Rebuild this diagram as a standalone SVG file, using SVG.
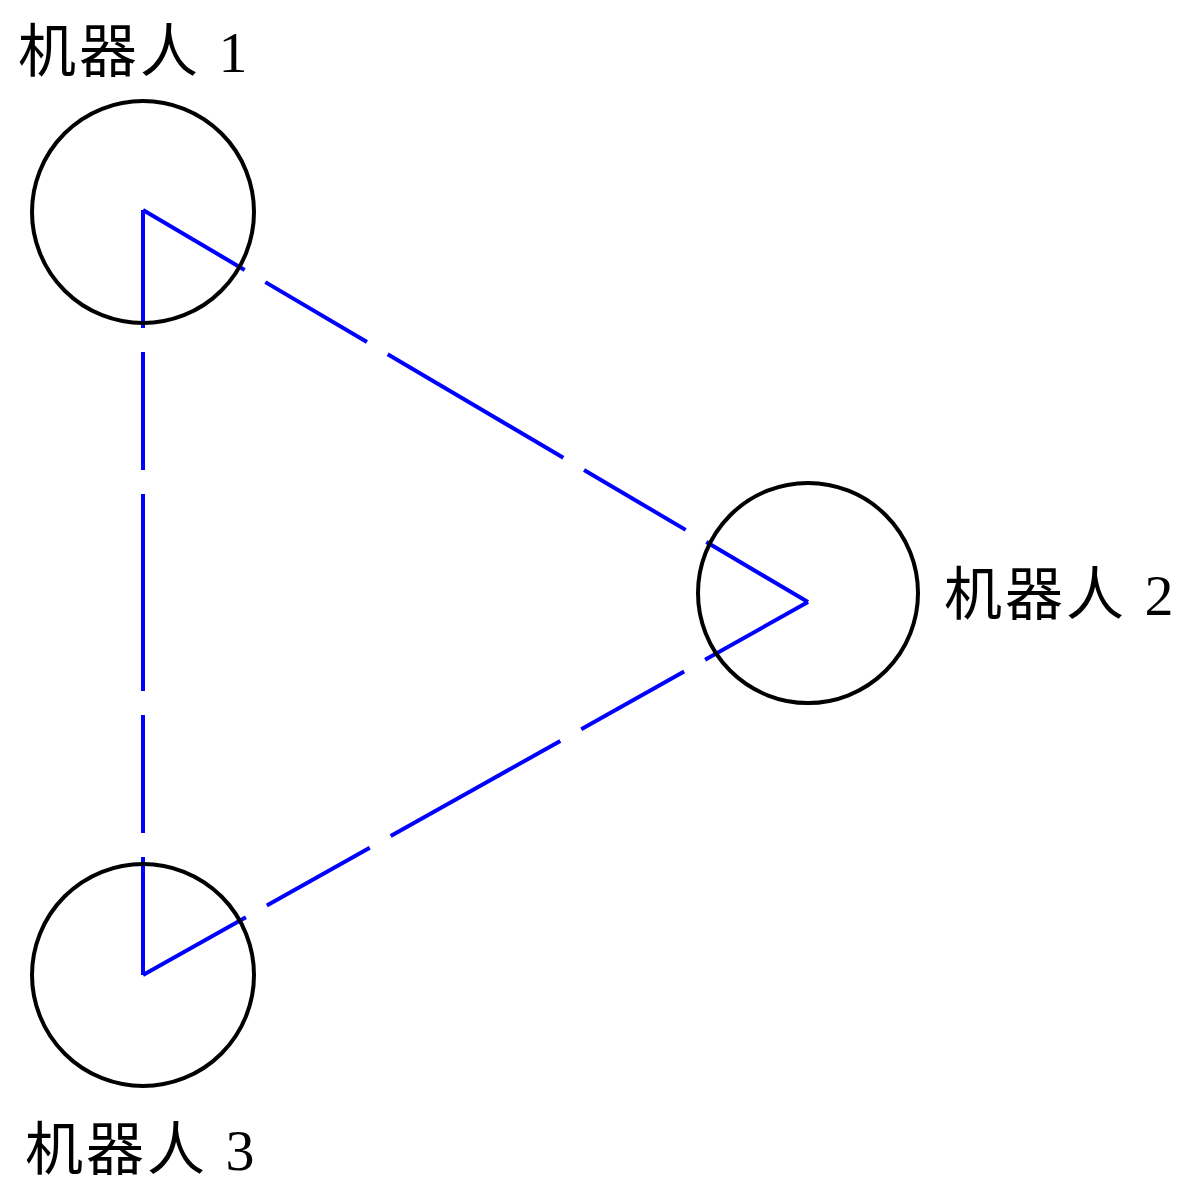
<svg xmlns="http://www.w3.org/2000/svg" width="1200" height="1200" viewBox="0 0 1200 1200">
<style>
.c{fill:none;stroke:#000;stroke-width:4}
.l{stroke:#0000ff;stroke-width:4;stroke-dasharray:118 24;fill:none}
.t{font-family:"Liberation Serif","Noto Sans CJK SC",serif;font-size:58px;letter-spacing:3px;fill:#000}
</style>
<rect width="1200" height="1200" fill="#fff"/>
<g id="connectors">
<path class="l" d="M143 210 L475.5 406 M808 602 L475.5 406"/>
<path class="l" d="M808 602 L475.5 788.5 M143 975 L475.5 788.5"/>
<path class="l" d="M143 210 L143 592.5 M143 975 L143 592.5"/>
</g>
<g id="robot1"><circle class="c" cx="143" cy="212" r="111"/><text class="t" x="18" y="72">机器人 1</text></g>
<g id="robot2"><circle class="c" cx="808" cy="593" r="110"/><text class="t" x="944" y="615">机器人 2</text></g>
<g id="robot3"><circle class="c" cx="143" cy="975" r="111"/><text class="t" x="25" y="1170">机器人 3</text></g>
</svg>
